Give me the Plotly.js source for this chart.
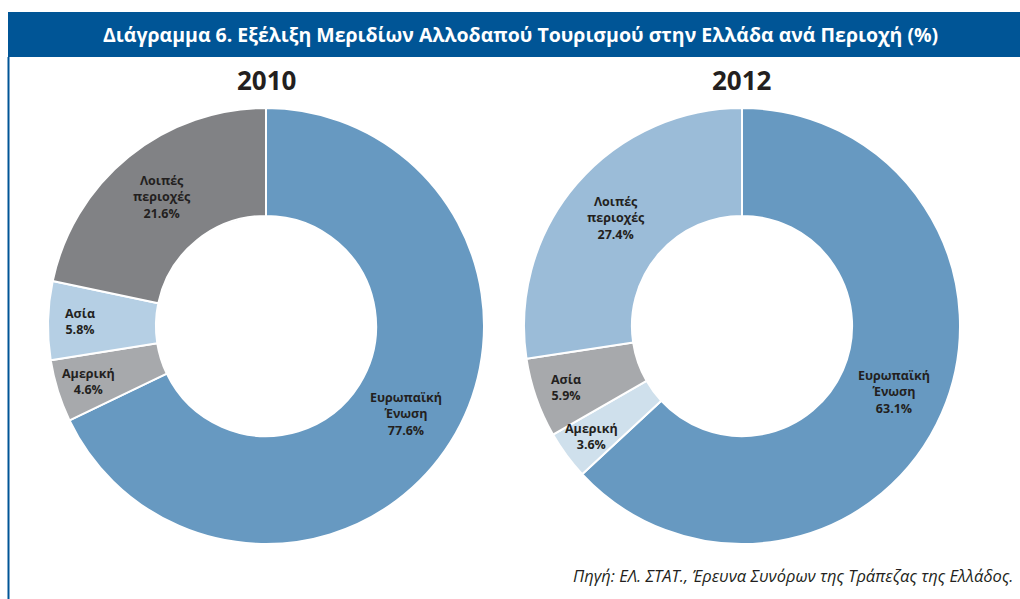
<!DOCTYPE html>
<html>
<head>
<meta charset="utf-8">
<script src="https://cdn.plot.ly/plotly-3.0.1.min.js"></script>
<style>
html,body{margin:0;padding:0;background:#fff;}
#chart{width:1020px;height:599px;}
</style>
</head>
<body>
<div id="chart"></div>
<script>
// Data
const categories = ["Ευρωπαϊκή<br>Ένωση", "Αμερική", "Ασία", "Λοιπές<br>περιοχές"];
// slice sizes as drawn in the picture
const values2010 = [67.6, 4.6, 5.8, 21.6];
const values2012 = [63.1, 3.6, 5.9, 27.4];
// percentages as printed on the picture
const printed2010 = ["77.6%", "4.6%", "5.8%", "21.6%"];
const printed2012 = ["63.1%", "3.6%", "5.9%", "27.4%"];
const years = ["2010", "2012"];
const colors2010 = ["#6799c1", "#a7a9ac", "#b5cfe4", "#818285"];
const colors2012 = ["#6799c1", "#cfe0ec", "#a7a9ac", "#9bbcd8"];
const chartTitle = "Διάγραμμα 6. Εξέλιξη Μεριδίων Αλλοδαπού Τουρισμού στην Ελλάδα ανά Περιοχή (%)";
const sourceNote = "Πηγή: ΕΛ. ΣΤΑΤ., Έρευνα Συνόρων της Τράπεζας της Ελλάδος.";

const W = 1020, H = 599;
const R = 218, cy = 326;
const centers = [266, 742];
const FONT = "Open Sans, sans-serif";

function dom(cx) {
  return {
    x: [(cx - R) / W, (cx + R) / W],
    y: [(H - cy - R) / H, (H - cy + R) / H]
  };
}

function pieTrace(vals, cols, domain) {
  return {
    type: "pie",
    labels: categories,
    values: vals,
    sort: false,
    direction: "clockwise",
    rotation: 0,
    hole: 0.505,
    domain: domain,
    marker: { colors: cols, line: { color: "#ffffff", width: 2 } },
    textinfo: "none",
    showlegend: false,
    hoverinfo: "label+value"
  };
}

// label annotations positioned from the data (slice mid-angle)
function sliceLabels(vals, printed, cx) {
  const total = vals.reduce((a, b) => a + b, 0);
  let cum = 0;
  return vals.map((v, i) => {
    const frac = v / total;
    const mid = (cum + frac / 2) * 2 * Math.PI;
    cum += frac;
    const r = R * (frac > 0.15 ? 0.76 : 0.855);
    const px = cx + r * Math.sin(mid);
    const py = cy - r * Math.cos(mid);
    return {
      text: "<b>" + categories[i] + "<br>" + printed[i] + "</b>",
      xref: "paper", yref: "paper", x: px / W, y: 1 - py / H,
      xanchor: "center", yanchor: "middle", align: "center", showarrow: false,
      font: { family: FONT, size: 12.5, color: "#231f20" }
    };
  });
}

const data = [
  pieTrace(values2010, colors2010, dom(centers[0])),
  pieTrace(values2012, colors2012, dom(centers[1]))
];

const annotations = [
  { text: "<b>" + chartTitle + "</b>", xref: "paper", yref: "paper", x: 520 / W, y: 1 - 34.5 / H,
    xanchor: "center", yanchor: "middle", showarrow: false,
    font: { family: FONT, size: 19.5, color: "#ffffff" } },
  { text: "<b>" + years[0] + "</b>", xref: "paper", yref: "paper", x: centers[0] / W, y: 1 - 80 / H,
    xanchor: "center", yanchor: "middle", showarrow: false,
    font: { family: FONT, size: 26, color: "#231f20" } },
  { text: "<b>" + years[1] + "</b>", xref: "paper", yref: "paper", x: centers[1] / W, y: 1 - 80 / H,
    xanchor: "center", yanchor: "middle", showarrow: false,
    font: { family: FONT, size: 26, color: "#231f20" } },
  { text: "<i>" + sourceNote + "</i>", xref: "paper", yref: "paper", x: 1016 / W, y: 1 - 575 / H,
    xanchor: "right", yanchor: "middle", showarrow: false,
    font: { family: FONT, size: 16.5, color: "#231f20" } }
].concat(sliceLabels(values2010, printed2010, centers[0]), sliceLabels(values2012, printed2012, centers[1]));

const layout = {
  width: W, height: H,
  margin: { l: 0, r: 0, t: 0, b: 0 },
  paper_bgcolor: "#ffffff",
  showlegend: false,
  shapes: [
    { type: "rect", xref: "paper", yref: "paper", x0: 8 / W, x1: 1, y0: 1 - 57 / H, y1: 1 - 12 / H,
      fillcolor: "#005596", line: { width: 0 }, layer: "below" },
    { type: "line", xref: "paper", yref: "paper", x0: 8.5 / W, x1: 8.5 / W, y0: 0, y1: 1 - 57 / H,
      line: { color: "#005596", width: 2 } }
  ],
  annotations: annotations
};

Plotly.newPlot("chart", data, layout, { staticPlot: true, displayModeBar: false });
</script>
</body>
</html>
